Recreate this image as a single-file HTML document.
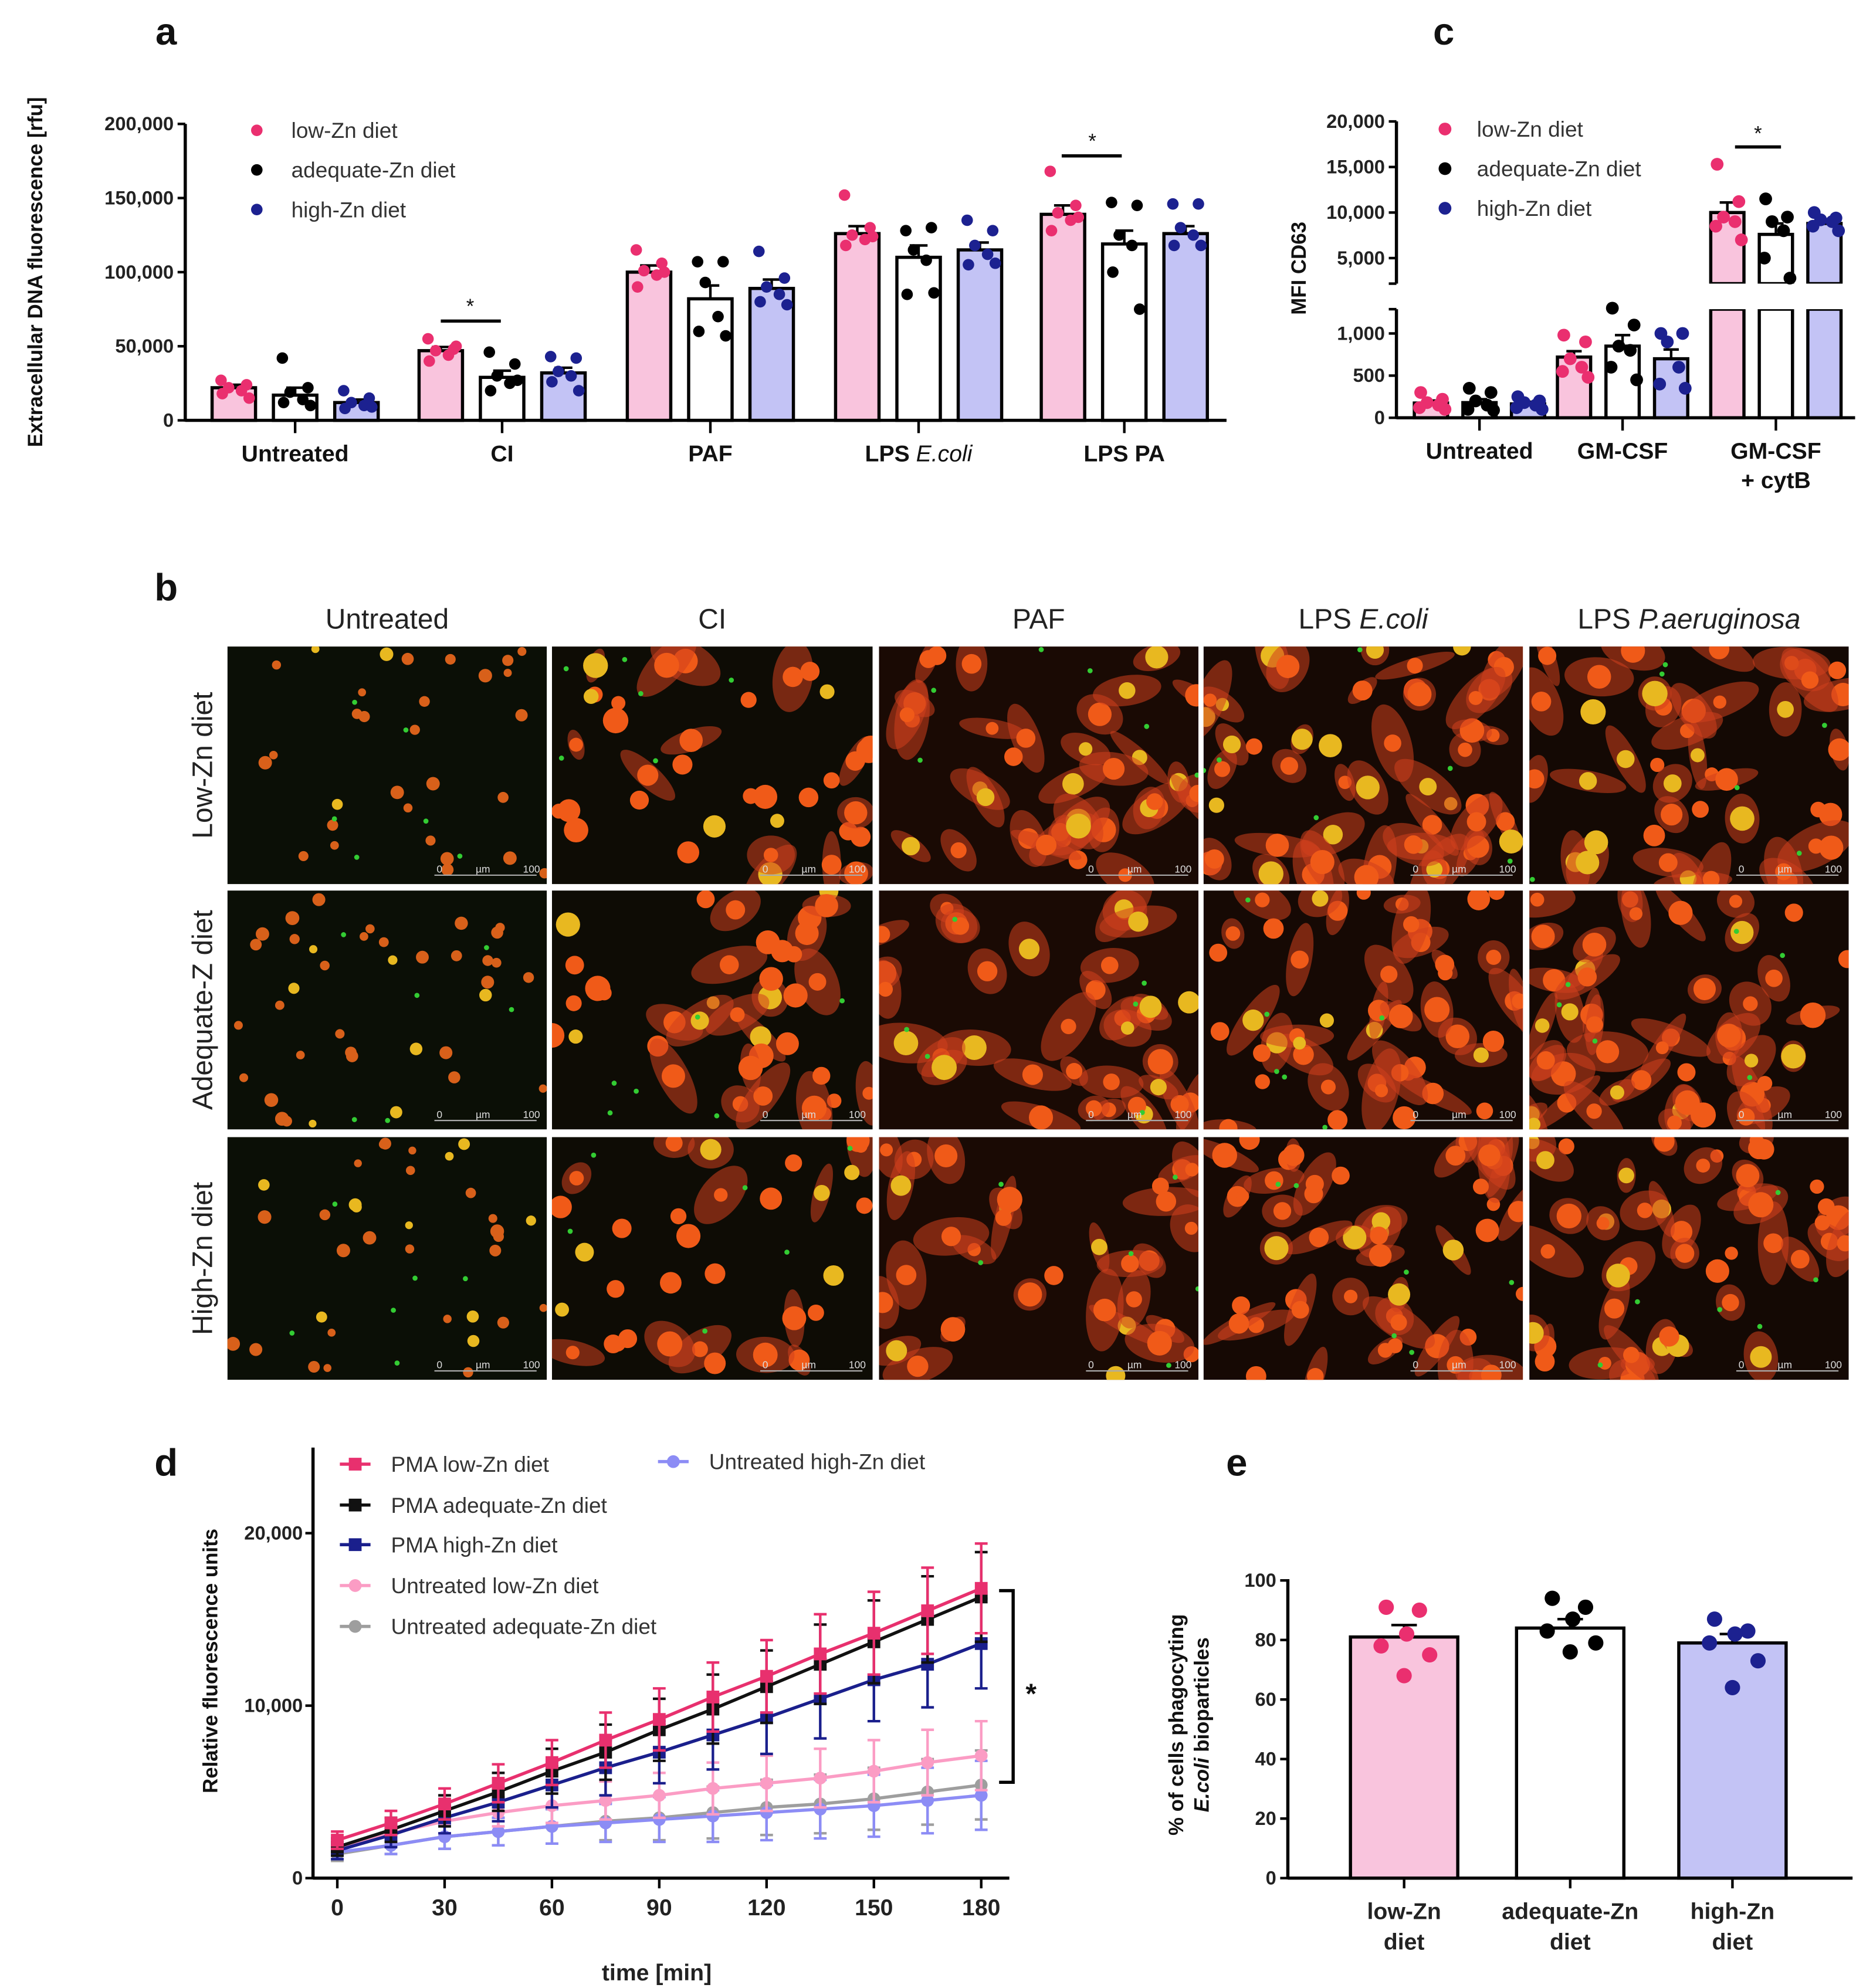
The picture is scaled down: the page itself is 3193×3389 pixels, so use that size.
<!DOCTYPE html>
<html><head><meta charset="utf-8"><title>Zinc diet neutrophil figure</title>
<style>
html,body{margin:0;padding:0;background:#fff;}
svg{display:block;}
text{font-family:"Liberation Sans",Arial,sans-serif;}
</style></head>
<body>
<svg id="fig" width="3193" height="3389" viewBox="0 0 1466 1556" xmlns="http://www.w3.org/2000/svg"><defs id="defs"></defs></svg>
<script>
// ---------- Panel a data ----------
const aCategories = ["Untreated","CI","PAF","LPS E.coli","LPS PA"];
const aLow = [22000,47000,100000,126000,139000];
const aAdq = [17000,29000,82000,110000,119000];
const aHigh = [12000,32000,89000,115000,126000];
const aLowErr = [2000,2500,4500,5000,6000];
const aAdqErr = [5000,4500,9000,8000,9000];
const aHighErr = [2000,3500,6000,5000,5000];
const aLowPts = [[27000,24000,22000,20000,18000,15000],[55000,48000,47000,44000,40000,50000],[115000,106000,101000,98000,90000,100000],[152000,130000,125000,122000,118000,124000],[168000,145000,140000,135000,128000,137000]];
const aAdqPts = [[42000,22000,19000,14000,12000,10000],[46000,38000,30000,25000,20000,27000],[107000,107000,93000,70000,60000,57000],[128000,130000,115000,108000,85000,86000],[147000,145000,125000,118000,100000,75000]];
const aHighPts = [[20000,15000,12000,10000,8000,9000],[43000,42000,33000,30000,26000,20000],[114000,96000,90000,85000,80000,78000],[135000,128000,118000,112000,105000,106000],[146000,146000,130000,125000,118000,118000]];
const aTicks = [0,50000,100000,150000,200000];
const aTickLabels = ["0","50,000","100,000","150,000","200,000"];
// ---------- Panel c data ----------
const cCategories = ["Untreated","GM-CSF","GM-CSF + cytB"];
const cLow = [175,720,10000];
const cAdq = [180,850,7600];
const cHigh = [165,700,8800];
const cLowErr = [30,70,1100];
const cAdqErr = [40,130,1200];
const cHighErr = [25,110,300];
const cLowPts = [[300,220,180,150,120,100],[980,900,700,600,550,480],[15300,11200,9500,9000,8500,7000]];
const cAdqPts = [[350,300,200,150,100,90],[1300,1100,850,800,600,450],[11500,9500,9000,8000,5000,2800]];
const cHighPts = [[250,200,180,150,120,100],[1000,1000,900,600,400,350],[10000,9400,9200,9000,8500,8000]];
const cTicksLow = [0,500,1000];
const cTickLabelsLow = ["0","500","1,000"];
const cTicksHigh = [5000,10000,15000,20000];
const cTickLabelsHigh = ["5,000","10,000","15,000","20,000"];
// ---------- Panel d data ----------
const dTimes = [0,15,30,45,60,75,90,105,120,135,150,165,180];
const dPmaLow = [2200,3200,4300,5500,6700,8000,9200,10500,11700,13000,14200,15500,16800];
const dPmaAdq = [1800,2800,3900,5000,6200,7300,8600,9800,11100,12400,13700,15000,16300];
const dPmaHigh = [1600,2500,3500,4400,5400,6400,7300,8300,9300,10400,11500,12400,13600];
const dUntLow = [1800,2600,3300,3800,4200,4500,4800,5200,5500,5800,6200,6700,7100];
const dUntAdq = [1400,1900,2400,2700,3000,3300,3500,3800,4100,4300,4600,5000,5400];
const dUntHigh = [1500,1900,2400,2700,3000,3200,3400,3600,3800,4000,4200,4500,4800];
const dPmaErr = [500,700,900,1100,1300,1600,1800,2000,2100,2300,2400,2500,2600];
const dUntErr = [400,500,700,800,1000,1100,1300,1500,1600,1700,1800,1900,2000];
const dXTicks = [0,30,60,90,120,150,180];
const dYTicks = [0,10000,20000];
const dYTickLabels = ["0","10,000","20,000"];
// ---------- Panel e data ----------
const eCategories = ["low-Zn diet","adequate-Zn diet","high-Zn diet"];
const eMeans = [81,84,79];
const eErr = [4,3,3];
const ePts = [[91,90,82,78,75,68],[94,91,87,83,79,76],[87,83,82,79,73,64]];
const eTicks = [0,20,40,60,80,100];

const NS="http://www.w3.org/2000/svg";
const svg=document.getElementById('fig');
const defs=document.getElementById('defs');
function el(tag,attrs,name,parent){
  const e=document.createElementNS(NS,tag);
  for(const k in attrs) e.setAttribute(k,attrs[k]);
  
  
  (parent||svg).appendChild(e);
  return e;
}
function txt(x,y,s,name,o){
  o=o||{};
  const t=el('text',{x:x,y:y,'font-size':o.fs||16,'font-weight':o.fw||'normal','text-anchor':o.anchor||'middle',fill:o.fill||'#111','font-style':o.fi||'normal'},name,o.parent);
  if(o.rot!==undefined) t.setAttribute('transform','rotate('+o.rot+' '+x+' '+y+')');
  t.textContent=s;
  return t;
}
const PINK='#f9c4dd', LAV='#c3c3f5', PDOT='#ea2f6f', BDOT='#1c2190';

txt(130,35,'a','panel-label-a',{fs:30,fw:'bold'});
txt(130,470,'b','panel-label-b',{fs:30,fw:'bold'});
txt(1130,35,'c','panel-label-c',{fs:30,fw:'bold'});
txt(130,1155,'d','panel-label-d',{fs:30,fw:'bold'});
txt(968,1155,'e','panel-label-e',{fs:30,fw:'bold'});

// ================= Panel a =================
(function(){
  const ax=145, y0=329, yTop=97;
  const ya=v=>y0-(v/200000)*(y0-yTop);
  const centers=[231,393,556,719,880];
  const off=[-48,0,48], bw=34;
  el('line',{x1:ax,y1:yTop,x2:ax,y2:y0+1,stroke:'#000','stroke-width':2.5},'a-y-axis');
  el('line',{x1:ax,y1:y0,x2:960,y2:y0,stroke:'#000','stroke-width':2.5},'a-x-axis');
  aTicks.forEach((t,i)=>{
    el('line',{x1:ax-6,y1:ya(t),x2:ax,y2:ya(t),stroke:'#000','stroke-width':2},'a-y-tick');
    txt(ax-9,ya(t)+5,aTickLabels[i],'a-y-tick-label',{fs:15,fw:'bold',anchor:'end',fill:'#222'});
  });
  txt(33,213,'Extracellular DNA fluorescence [rfu]','a-y-axis-title',{fs:16,fw:'bold',rot:-90});
  const series=[[aLow,aLowErr,aLowPts,PINK,PDOT],[aAdq,aAdqErr,aAdqPts,'#fff','#000'],[aHigh,aHighErr,aHighPts,LAV,BDOT]];
  centers.forEach((c,g)=>{
    el('line',{x1:c,y1:y0,x2:c,y2:y0+10,stroke:'#000','stroke-width':2},'a-x-tick');
    series.forEach((s,k)=>{
      const x=c+off[k]-bw/2, v=s[0][g];
      el('rect',{x:x,y:ya(v),width:bw,height:y0-ya(v),fill:s[3],stroke:'#000','stroke-width':2.5},'a-bar-'+g+'-'+k);
      const e=s[1][g];
      el('line',{x1:c+off[k],y1:ya(v),x2:c+off[k],y2:ya(v+e),stroke:'#000','stroke-width':2},'a-error-bar');
      el('line',{x1:c+off[k]-7,y1:ya(v+e),x2:c+off[k]+7,y2:ya(v+e),stroke:'#000','stroke-width':2},'a-error-cap');
      s[2][g].forEach((p,j)=>{
        const dx=[-10,10,-4,6,-9,12][j];
        el('circle',{cx:c+off[k]+dx,cy:ya(p),r:4.5,fill:s[4]},'a-data-point');
      });
    });
  });
  txt(231,361,'Untreated','a-x-label',{fs:18,fw:'bold'});
  txt(393,361,'CI','a-x-label',{fs:18,fw:'bold'});
  txt(556,361,'PAF','a-x-label',{fs:18,fw:'bold'});
  const t=txt(719,361,'LPS ','a-x-label',{fs:18,fw:'bold'});
  const ts=document.createElementNS(NS,'tspan'); ts.setAttribute('font-style','italic'); ts.setAttribute('font-weight','normal'); ts.textContent='E.coli'; t.appendChild(ts);
  txt(880,361,'LPS PA','a-x-label',{fs:18,fw:'bold'});
  el('line',{x1:345,y1:ya(67000),x2:392,y2:ya(67000),stroke:'#000','stroke-width':2.5},'a-sig-bar-ci');
  txt(368,ya(67000)-6,'*','a-sig-star',{fs:16});
  el('line',{x1:831,y1:122,x2:878,y2:122,stroke:'#000','stroke-width':2.5},'a-sig-bar-pa');
  txt(855,116,'*','a-sig-star',{fs:16});
  const leg=[['low-Zn diet',PDOT],['adequate-Zn diet','#000'],['high-Zn diet',BDOT]];
  leg.forEach((l,i)=>{
    el('circle',{cx:201,cy:102+i*31,r:4.5,fill:l[1]},'a-legend-marker');
    txt(228,108+i*31,l[0],'a-legend-entry',{fs:17,anchor:'start',fill:'#333'});
  });
})();

// ================= Panel c =================
(function(){
  const ax=1093, y0=327;
  const yl=v=>y0-v*0.066;
  const yh=v=>202-(v-5000)*0.00713;
  const yc=v=>v>2000?yh(v):yl(v);
  el('line',{x1:ax,y1:95,x2:ax,y2:222,stroke:'#000','stroke-width':2.5},'c-y-axis-upper');
  el('line',{x1:ax,y1:242,x2:ax,y2:y0+1,stroke:'#000','stroke-width':2.5},'c-y-axis-lower');
  el('line',{x1:ax-6,y1:222,x2:ax,y2:222,stroke:'#000','stroke-width':2},'c-axis-break');
  el('line',{x1:ax-6,y1:242,x2:ax,y2:242,stroke:'#000','stroke-width':2},'c-axis-break');
  el('line',{x1:ax,y1:y0,x2:1452,y2:y0,stroke:'#000','stroke-width':2.5},'c-x-axis');
  cTicksLow.forEach((t,i)=>{
    el('line',{x1:ax-6,y1:yl(t),x2:ax,y2:yl(t),stroke:'#000','stroke-width':2},'c-y-tick');
    txt(ax-9,yl(t)+5,cTickLabelsLow[i],'c-y-tick-label',{fs:15,fw:'bold',anchor:'end',fill:'#222'});
  });
  cTicksHigh.forEach((t,i)=>{
    el('line',{x1:ax-6,y1:yh(t),x2:ax,y2:yh(t),stroke:'#000','stroke-width':2},'c-y-tick');
    txt(ax-9,yh(t)+5,cTickLabelsHigh[i],'c-y-tick-label',{fs:15,fw:'bold',anchor:'end',fill:'#222'});
  });
  txt(1022,210,'MFI CD63','c-y-axis-title',{fs:16,fw:'bold',rot:-90});
  const centers=[1158,1270,1390], off=[-38,0,38], bw=26;
  const series=[[cLow,cLowErr,cLowPts,PINK,PDOT],[cAdq,cAdqErr,cAdqPts,'#fff','#000'],[cHigh,cHighErr,cHighPts,LAV,BDOT]];
  centers.forEach((c,g)=>{
    el('line',{x1:c,y1:y0,x2:c,y2:y0+10,stroke:'#000','stroke-width':2},'c-x-tick');
    series.forEach((s,k)=>{
      const x=c+off[k]-bw/2, v=s[0][g];
      if(v>2000){
        el('rect',{x:x,y:yh(v),width:bw,height:222-yh(v),fill:s[3],stroke:'#000','stroke-width':2.5},'c-bar-upper');
        el('rect',{x:x,y:242,width:bw,height:y0-242,fill:s[3],stroke:'#000','stroke-width':2.5},'c-bar-lower');
        el('rect',{x:x-2,y:222,width:bw+4,height:20,fill:'#fff'},'c-bar-break-gap');
      } else {
        el('rect',{x:x,y:yl(v),width:bw,height:y0-yl(v),fill:s[3],stroke:'#000','stroke-width':2.5},'c-bar');
      }
      const e=s[1][g];
      el('line',{x1:c+off[k],y1:yc(v),x2:c+off[k],y2:yc(v+e),stroke:'#000','stroke-width':2},'c-error-bar');
      el('line',{x1:c+off[k]-6,y1:yc(v+e),x2:c+off[k]+6,y2:yc(v+e),stroke:'#000','stroke-width':2},'c-error-cap');
      s[2][g].forEach((p,j)=>{
        const dx=[-8,9,-3,6,-9,11][j];
        el('circle',{cx:c+off[k]+dx,cy:yc(p),r:5,fill:s[4]},'c-data-point');
      });
    });
  });
  txt(1158,359,'Untreated','c-x-label',{fs:18,fw:'bold'});
  txt(1270,359,'GM-CSF','c-x-label',{fs:18,fw:'bold'});
  txt(1390,359,'GM-CSF','c-x-label',{fs:18,fw:'bold'});
  txt(1390,382,'+ cytB','c-x-label',{fs:18,fw:'bold'});
  el('line',{x1:1358,y1:115,x2:1394,y2:115,stroke:'#000','stroke-width':2.5},'c-sig-bar');
  txt(1376,110,'*','c-sig-star',{fs:16});
  const leg=[['low-Zn diet',PDOT],['adequate-Zn diet','#000'],['high-Zn diet',BDOT]];
  leg.forEach((l,i)=>{
    el('circle',{cx:1131,cy:101+i*31,r:5,fill:l[1]},'c-legend-marker');
    txt(1156,107+i*31,l[0],'c-legend-entry',{fs:17,anchor:'start',fill:'#333'});
  });
})();

// ================= Panel b (micrographs) =================
(function(){
  const cols=[[178,428],[432,683],[688,938],[942,1192],[1197,1447]];
  const rows=[[506,692],[697,884],[890,1080]];
  const colNames=['Untreated','CI','PAF','LPS ','LPS '];
  const colIt=['','','','E.coli','P.aeruginosa'];
  cols.forEach((c,i)=>{
    const t=txt((c[0]+c[1])/2,492,colNames[i],'b-column-label',{fs:22,fill:'#222'});
    if(colIt[i]){const s=document.createElementNS(NS,'tspan');s.setAttribute('font-style','italic');s.textContent=colIt[i];t.appendChild(s);}
  });
  const rowNames=['Low-Zn diet','Adequate-Z diet','High-Zn diet'];
  rows.forEach((r,i)=>txt(166,(r[0]+r[1])/2,rowNames[i],'b-row-label',{fs:22,fill:'#222',rot:-90}));
  let seed=7;
  const rnd=()=>{seed=(seed*16807)%2147483647;return seed/2147483647;};
  const density=[30,32,30,45,38];
  const spread=[0,0.35,0.9,0.7,0.7];
  const bgs=['#0b0f06','#0e0c05','#1a0a04','#160904','#140904'];
  rows.forEach((r,ri)=>cols.forEach((c,ci)=>{
    const w=c[1]-c[0], h=r[1]-r[0];
    const cid='clip'+ri+'_'+ci;
    const cp=el('clipPath',{id:cid},'micrograph-clip',defs);
    el('rect',{x:c[0],y:r[0],width:w,height:h},'micrograph-clip-rect',cp);
    const g=el('g',{'clip-path':'url(#'+cid+')'},'micrograph-'+ri+'-'+ci);
    el('rect',{x:c[0],y:r[0],width:w,height:h,fill:bgs[ci]},'micrograph-background',g);
    const n=density[ci]+Math.floor(rnd()*10);
    for(let k=0;k<n;k++){
      const x=c[0]+rnd()*w, y=r[0]+rnd()*h;
      if(rnd()<spread[ci]){
        el('ellipse',{cx:x,cy:y,rx:12+rnd()*22,ry:6+rnd()*10,fill:'#d0401e',opacity:0.55,transform:'rotate('+(rnd()*180)+' '+x+' '+y+')'},'cell-spread',g);
      }
      const rr=ci==0?3+rnd()*2.5:5+rnd()*5;
      el('circle',{cx:x,cy:y,r:rr,fill:rnd()<0.2?'#e8b820':(ci==0?'#d8601a':'#f05a18')},'cell-nucleus',g);
    }
    for(let k=0;k<6;k++) el('circle',{cx:c[0]+rnd()*w,cy:r[0]+rnd()*h,r:2,fill:'#3c3'},'green-speck',g);
    el('line',{x1:c[1]-88,y1:r[1]-7,x2:c[1]-8,y2:r[1]-7,stroke:'#aaa','stroke-width':1},'scale-bar',g);
    txt(c[1]-84,r[1]-9,'0','scale-bar-label',{fs:8,fill:'#ddd',parent:g});
    txt(c[1]-50,r[1]-9,'µm','scale-bar-label',{fs:8,fill:'#ddd',parent:g});
    txt(c[1]-12,r[1]-9,'100','scale-bar-label',{fs:8,fill:'#ddd',parent:g});
  }));
})();

// ================= Panel d =================
(function(){
  const ax=245, y0=1470;
  const xd=t=>264+t*2.8;
  const yd=v=>y0-v*0.0135;
  el('line',{x1:ax,y1:1133,x2:ax,y2:y0+1,stroke:'#000','stroke-width':2.5},'d-y-axis');
  el('line',{x1:ax,y1:y0,x2:790,y2:y0,stroke:'#000','stroke-width':2.5},'d-x-axis');
  dYTicks.forEach((t,i)=>{
    el('line',{x1:ax-6,y1:yd(t),x2:ax,y2:yd(t),stroke:'#000','stroke-width':2},'d-y-tick');
    txt(ax-8,yd(t)+5,dYTickLabels[i],'d-y-tick-label',{fs:15,fw:'bold',anchor:'end',fill:'#222'});
  });
  dXTicks.forEach(t=>{
    el('line',{x1:xd(t),y1:y0,x2:xd(t),y2:y0+8,stroke:'#000','stroke-width':2},'d-x-tick');
    txt(xd(t),1499,String(t),'d-x-tick-label',{fs:18,fw:'bold',fill:'#222'});
  });
  txt(514,1550,'time [min]','d-x-axis-title',{fs:18,fw:'bold',fill:'#222'});
  txt(170,1300,'Relative fluorescence units','d-y-axis-title',{fs:16,fw:'bold',rot:-90});
  const series=[
    [dUntAdq,dUntErr,'#9e9e9e','circle','untreated-adequate'],
    [dUntHigh,dUntErr,'#8c8cf5','circle','untreated-high'],
    [dUntLow,dUntErr,'#fb9cc4','circle','untreated-low'],
    [dPmaHigh,dPmaErr,'#1a1f8c','square','pma-high'],
    [dPmaAdq,dPmaErr,'#111','square','pma-adequate'],
    [dPmaLow,dPmaErr,'#e8306e','square','pma-low']];
  series.forEach(s=>{
    const vals=s[0], err=s[1], col=s[2];
    const g=el('g',{},'d-series-'+s[4]);
    dTimes.forEach((t,i)=>{
      const x=xd(t);
      el('line',{x1:x,y1:yd(vals[i]-err[i]),x2:x,y2:yd(vals[i]+err[i]),stroke:col,'stroke-width':2},'d-error-bar',g);
      el('line',{x1:x-5,y1:yd(vals[i]+err[i]),x2:x+5,y2:yd(vals[i]+err[i]),stroke:col,'stroke-width':2},'d-error-cap',g);
      el('line',{x1:x-5,y1:yd(vals[i]-err[i]),x2:x+5,y2:yd(vals[i]-err[i]),stroke:col,'stroke-width':2},'d-error-cap',g);
    });
    el('polyline',{points:dTimes.map((t,i)=>xd(t)+','+yd(vals[i])).join(' '),fill:'none',stroke:col,'stroke-width':2.5},'d-line',g);
    dTimes.forEach((t,i)=>{
      if(s[3]==='square') el('rect',{x:xd(t)-5,y:yd(vals[i])-5,width:10,height:10,fill:col},'d-marker',g);
      else el('circle',{cx:xd(t),cy:yd(vals[i]),r:5,fill:col},'d-marker',g);
    });
  });
  el('polyline',{points:'782,1245 793,1245 793,1395 782,1395',fill:'none',stroke:'#000','stroke-width':2.5},'d-sig-bracket');
  txt(807,1333,'*','d-sig-star',{fs:22,fw:'bold'});
  const leg=[['PMA low-Zn diet','#e8306e','square',278,1146],['PMA adequate-Zn diet','#111','square',278,1178],['PMA high-Zn diet','#1a1f8c','square',278,1209],['Untreated low-Zn diet','#fb9cc4','circle',278,1241],['Untreated adequate-Zn diet','#9e9e9e','circle',278,1273],['Untreated high-Zn diet','#8c8cf5','circle',527,1144]];
  leg.forEach(l=>{
    el('line',{x1:l[3]-12,y1:l[4],x2:l[3]+12,y2:l[4],stroke:l[1],'stroke-width':2.5},'d-legend-line');
    if(l[2]==='square') el('rect',{x:l[3]-5,y:l[4]-5,width:10,height:10,fill:l[1]},'d-legend-marker');
    else el('circle',{cx:l[3],cy:l[4],r:5,fill:l[1]},'d-legend-marker');
    txt(l[3]+28,l[4]+6,l[0],'d-legend-entry',{fs:17,anchor:'start',fill:'#333'});
  });
})();

// ================= Panel e =================
(function(){
  const ax=1008, y0=1470;
  const ye=v=>y0-v*2.33;
  el('line',{x1:ax,y1:ye(100)-1,x2:ax,y2:y0+1,stroke:'#000','stroke-width':2.5},'e-y-axis');
  el('line',{x1:ax,y1:y0,x2:1450,y2:y0,stroke:'#000','stroke-width':2.5},'e-x-axis');
  eTicks.forEach(t=>{
    el('line',{x1:ax-6,y1:ye(t),x2:ax,y2:ye(t),stroke:'#000','stroke-width':2},'e-y-tick');
    txt(ax-9,ye(t)+5,String(t),'e-y-tick-label',{fs:15,fw:'bold',anchor:'end',fill:'#222'});
  });
  txt(926,1350,'% of cells phagocyting','e-y-axis-title',{fs:16,fw:'bold',rot:-90});
  const t2=txt(946,1350,'','e-y-axis-title-line2',{fs:16,fw:'bold',rot:-90});
  const s1=document.createElementNS(NS,'tspan');s1.setAttribute('font-style','italic');s1.textContent='E.coli';t2.appendChild(s1);
  t2.appendChild(document.createTextNode(' bioparticles'));
  const centers=[1099,1229,1356], bw=84;
  const fills=[PINK,'#fff',LAV], dots=[PDOT,'#000',BDOT];
  centers.forEach((c,i)=>{
    const v=eMeans[i];
    el('rect',{x:c-bw/2,y:ye(v),width:bw,height:y0-ye(v),fill:fills[i],stroke:'#000','stroke-width':2.5},'e-bar-'+i);
    el('line',{x1:c,y1:ye(v),x2:c,y2:ye(v+eErr[i]),stroke:'#000','stroke-width':2},'e-error-bar');
    el('line',{x1:c-10,y1:ye(v+eErr[i]),x2:c+10,y2:ye(v+eErr[i]),stroke:'#000','stroke-width':2},'e-error-cap');
    ePts[i].forEach((p,j)=>{
      const dx=[-14,12,2,-18,20,0][j];
      el('circle',{cx:c+dx,cy:ye(p),r:6,fill:dots[i]},'e-data-point');
    });
    el('line',{x1:c,y1:y0,x2:c,y2:y0+8,stroke:'#000','stroke-width':2},'e-x-tick');
    const parts=eCategories[i].split(' ');
    txt(c,1502,parts[0],'e-x-label',{fs:18,fw:'bold',fill:'#222'});
    txt(c,1526,parts[1],'e-x-label',{fs:18,fw:'bold',fill:'#222'});
  });
})();
</script>
</body></html>
